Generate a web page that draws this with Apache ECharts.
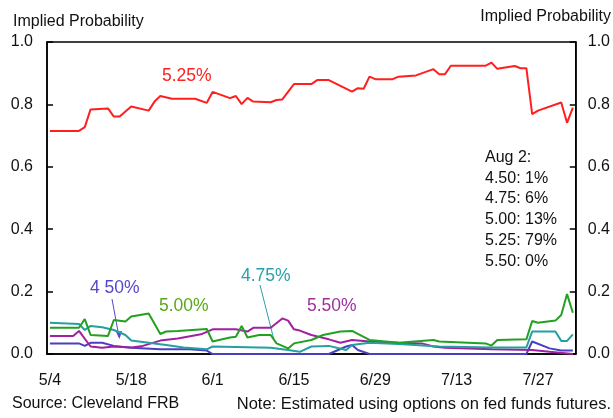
<!DOCTYPE html>
<html>
<head>
<meta charset="utf-8">
<script src="https://cdn.jsdelivr.net/npm/echarts@6/dist/echarts.min.js"></script>
<style>
html, body { margin: 0; padding: 0; background: #fff; }
#chart { width: 613px; height: 418px; }
</style>
</head>
<body>
<div id="chart"></div>
<script>
// daily category axis, 5/4 .. 8/2 (2006)
const firstDay = new Date(2006, 4, 4)
const dayCount = 91
const dates = []
for (let i = 0; i < dayCount; i++) {
  const d = new Date(firstDay.getTime() + i * 86400000)
  dates.push((d.getMonth() + 1) + '/' + d.getDate())
}

// values, by day offset from 5/4
const days525 = [0, 5, 6, 7, 10, 11, 12, 14, 17, 18, 19, 21, 25, 27, 28, 31, 32, 33, 34, 35, 38, 39, 40, 42, 45, 46, 48, 52, 53, 54, 55, 56, 59, 60, 63, 66, 67, 68, 69, 75, 76, 77, 80, 81, 82, 83, 84, 88, 89, 90]
const prob525 = [0.715, 0.715, 0.727, 0.784, 0.787, 0.761, 0.761, 0.793, 0.780, 0.809, 0.827, 0.818, 0.818, 0.805, 0.840, 0.820, 0.827, 0.801, 0.821, 0.809, 0.807, 0.814, 0.816, 0.865, 0.865, 0.878, 0.878, 0.841, 0.852, 0.850, 0.889, 0.881, 0.881, 0.889, 0.893, 0.913, 0.897, 0.897, 0.924, 0.924, 0.934, 0.914, 0.923, 0.916, 0.916, 0.769, 0.780, 0.806, 0.741, 0.790]

const days500 = [0, 5, 6, 7, 10, 11, 13, 14, 17, 19, 20, 22, 27, 28, 31, 32, 33, 34, 36, 38, 39, 41, 42, 45, 47, 50, 52, 55, 60, 66, 67, 75, 76, 77, 82, 83, 84, 87, 88, 89, 90]
const prob500 = [0.084, 0.084, 0.112, 0.061, 0.058, 0.109, 0.104, 0.120, 0.130, 0.064, 0.072, 0.074, 0.080, 0.040, 0.053, 0.055, 0.090, 0.053, 0.061, 0.061, 0.034, 0.018, 0.034, 0.045, 0.061, 0.072, 0.074, 0.045, 0.036, 0.045, 0.040, 0.034, 0.027, 0.045, 0.047, 0.106, 0.100, 0.107, 0.125, 0.192, 0.132]

const days475 = [0, 5, 6, 7, 9, 11, 13, 14, 17, 20, 23, 27, 28, 38, 41, 43, 45, 48, 51, 52, 55, 60, 67, 76, 82, 83, 87, 88, 89, 90]
const prob475 = [0.100, 0.096, 0.077, 0.090, 0.086, 0.077, 0.061, 0.043, 0.036, 0.029, 0.021, 0.015, 0.024, 0.020, 0.013, 0.007, 0.024, 0.026, 0.013, 0.029, 0.036, 0.032, 0.024, 0.021, 0.021, 0.072, 0.072, 0.042, 0.042, 0.063]

const days550 = [0, 4, 5, 7, 9, 11, 14, 16, 19, 22, 26, 28, 32, 34, 35, 38, 40, 41, 42, 43, 45, 48, 50, 52, 55, 60, 64, 66, 68, 76, 83, 86, 90]
const prob550 = [0.058, 0.058, 0.074, 0.024, 0.020, 0.024, 0.021, 0.026, 0.043, 0.050, 0.063, 0.079, 0.079, 0.072, 0.084, 0.084, 0.114, 0.107, 0.079, 0.075, 0.061, 0.047, 0.036, 0.045, 0.040, 0.036, 0.034, 0.024, 0.020, 0.015, 0.013, 0.007, 0.000]

const days450 = [0, 5, 6, 7, 9, 11, 14, 19, 24, 27, 28, 48, 51, 52, 53, 55, 82, 83, 86, 88, 90]
const prob450 = [0.034, 0.034, 0.026, 0.036, 0.036, 0.026, 0.020, 0.015, 0.015, 0.011, 0.000, 0.000, 0.024, 0.029, 0.013, 0.000, 0.000, 0.040, 0.018, 0.011, 0.011]

const summaryLines = ['Aug 2:', '4.50: 1%', '4.75: 6%', '5.00: 13%', '5.25: 79%', '5.50: 0%']

const FONT = '"Liberation Sans", Arial, sans-serif'

function pairs(days, vals) {
  return days.map((d, i) => [d, vals[i]])
}

function lineSeries(name, color, days, vals, z) {
  return {
    name: name,
    type: 'line',
    data: pairs(days, vals),
    symbol: 'none',
    z: z,
    lineStyle: { color: color, width: 2 },
    itemStyle: { color: color }
  }
}

function valueAxis(pos, margin) {
  return {
    type: 'value',
    position: pos,
    min: 0,
    max: 1,
    interval: 0.2,
    axisLine: { show: true, lineStyle: { color: '#000', width: 1.5 } },
    axisTick: { show: true, inside: true, length: 6, lineStyle: { color: '#000', width: 1.5 } },
    axisLabel: {
      color: '#111', fontSize: 16, fontFamily: FONT, margin: margin,
      formatter: v => v.toFixed(1)
    },
    splitLine: { show: false }
  }
}

const chart = echarts.init(document.getElementById('chart'))
chart.setOption({
  animation: false,
  backgroundColor: '#fff',
  grid: { left: 47, right: 37, top: 42, bottom: 64, show: true, borderColor: '#000', borderWidth: 1.5 },
  xAxis: {
    type: 'category',
    data: dates,
    boundaryGap: true,
    axisLine: { lineStyle: { color: '#000', width: 1.5 } },
    axisTick: { inside: true, length: 6, interval: 13, lineStyle: { color: '#000', width: 1.5 } },
    axisLabel: { interval: 13, color: '#111', fontSize: 16, fontFamily: FONT, margin: 19 }
  },
  yAxis: [valueAxis('left', 14), valueAxis('right', 12)],
  series: [
    lineSeries('4.50%', '#4b3fbf', days450, prob450, 2),
    lineSeries('5.50%', '#a020a0', days550, prob550, 3),
    lineSeries('4.75%', '#25a0a0', days475, prob475, 4),
    lineSeries('5.00%', '#22a022', days500, prob500, 5),
    lineSeries('5.25%', '#ff1f1f', days525, prob525, 6)
  ],
  graphic: [
    { type: 'text', left: 13, top: 14, style: { text: 'Implied Probability', fill: '#111', font: '16px ' + FONT } },
    { type: 'text', right: 2, top: 9, style: { text: 'Implied Probability', fill: '#111', font: '16px ' + FONT } },
    { type: 'text', left: 162, top: 67, style: { text: '5.25%', fill: '#ff2020', font: '17.5px ' + FONT } },
    { type: 'text', left: 90, top: 279, style: { text: '4 50%', fill: '#5548c8', font: '17.5px ' + FONT } },
    { type: 'text', left: 159, top: 297, style: { text: '5.00%', fill: '#5aa818', font: '17.5px ' + FONT } },
    { type: 'text', left: 241, top: 267, style: { text: '4.75%', fill: '#2aa0a8', font: '17.5px ' + FONT } },
    { type: 'text', left: 307, top: 297, style: { text: '5.50%', fill: '#a030a0', font: '17.5px ' + FONT } },
    { type: 'line', shape: { x1: 112, y1: 299, x2: 119, y2: 337 }, style: { stroke: '#5548c8', lineWidth: 1 } },
    { type: 'polygon', shape: { points: [[116, 332], [122, 331], [119.5, 339]] }, style: { fill: '#5548c8' } },
    { type: 'line', shape: { x1: 260, y1: 285, x2: 274, y2: 340 }, style: { stroke: '#2aa0a8', lineWidth: 1 } },
    { type: 'text', left: 485, top: 147, style: { text: summaryLines.join('\n'), fill: '#111', font: '16px ' + FONT, lineHeight: 20.8 } },
    { type: 'text', left: 12, top: 396, style: { text: 'Source: Cleveland FRB', fill: '#111', font: '16px ' + FONT } },
    { type: 'text', right: 2, top: 396, style: { text: 'Note: Estimated using options on fed funds futures.', fill: '#111', font: '16.5px ' + FONT } }
  ]
})
</script>
</body>
</html>
